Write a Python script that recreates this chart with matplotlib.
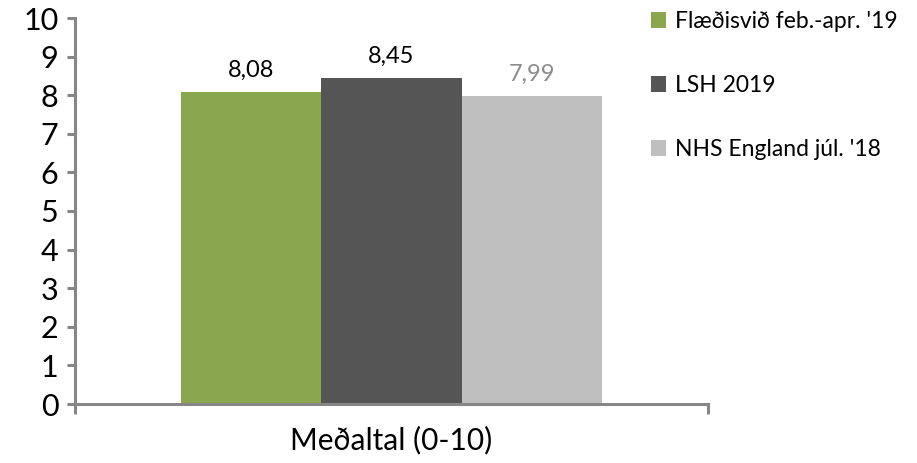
import numpy as np
import matplotlib.pyplot as plt

plt.rcParams['font.family'] = ['Lato', 'DejaVu Sans']

# gögn
category = "Meðaltal (0-10)"
series = ["Flæðisvið feb.-apr. '19", "LSH 2019", "NHS England júl. '18"]
values = [8.08, 8.45, 7.99]
labels = ["8,08", "8,45", "7,99"]
colors = ["#8AA64E", "#555555", "#BFBFBF"]
label_colors = ["#000000", "#000000", "#8C8C8C"]
yticks = list(range(0, 11))

fig = plt.figure(figsize=(9.17, 4.63), dpi=100)
ax = fig.add_axes([75/917, 1-404/463, (708-75)/917, (404-18)/463])

w = 1.0
offsets = [-w, 0, w]
for off, v, lab, c, lc, s in zip(offsets, values, labels, colors, label_colors, series):
    ax.bar(off, v, width=w, color=c, label=s)
    ax.text(off, v + 0.28, lab, ha='center', va='bottom', fontsize=17, color=lc)

ax.set_ylim(0, 10)
ax.set_xlim(-2.26, 2.26)
ax.set_yticks(yticks)
ax.set_xticks([0])
ax.set_xticklabels([category], fontsize=21.5)
ax.set_xticks([-2.26, 2.26], minor=True)

spine_c = "#868686"
for sp in ['top', 'right']:
    ax.spines[sp].set_visible(False)
for sp in ['left', 'bottom']:
    ax.spines[sp].set_color(spine_c)
    ax.spines[sp].set_linewidth(2.2)

ax.tick_params(axis='y', length=6, width=2.2, color=spine_c, labelsize=22, pad=6)
ax.tick_params(axis='x', which='major', length=0, pad=16)
ax.tick_params(axis='x', which='minor', length=7, width=2.2, color=spine_c)

leg = ax.legend(loc='upper left', bbox_to_anchor=(651/917, 1-11/463), bbox_transform=fig.transFigure,
                frameon=False, fontsize=16.5, handlelength=0.66, handleheight=0.66,
                handletextpad=0.4, labelspacing=1.88, borderaxespad=0, borderpad=0)

fig.savefig("out.png", dpi=100)
